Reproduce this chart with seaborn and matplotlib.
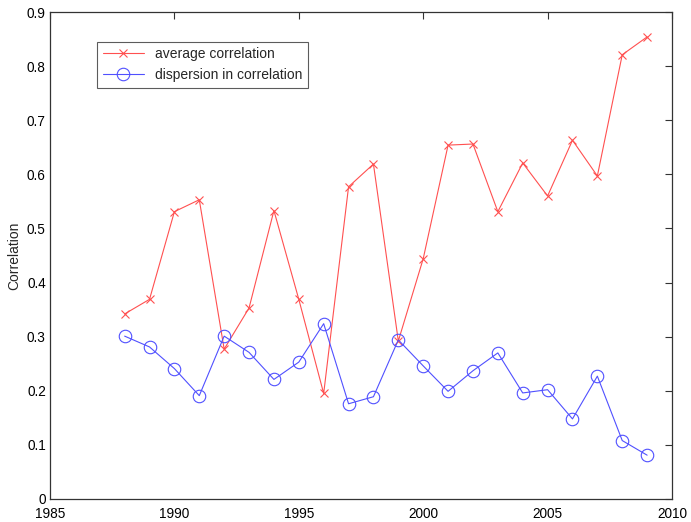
import matplotlib
matplotlib.use("Agg")
import matplotlib.pyplot as plt
import seaborn as sns
import pandas as pd

years = list(range(1988, 2010))
avg_corr = [0.342, 0.369, 0.531, 0.553, 0.277, 0.353, 0.533, 0.369, 0.195, 0.577,
            0.619, 0.292, 0.444, 0.654, 0.656, 0.531, 0.621, 0.560, 0.663, 0.597,
            0.821, 0.854]
disp_corr = [0.301, 0.281, 0.241, 0.191, 0.301, 0.271, 0.221, 0.253, 0.324, 0.176,
             0.189, 0.294, 0.246, 0.199, 0.237, 0.270, 0.196, 0.202, 0.148, 0.227,
             0.108, 0.081]
xticks = [1985, 1990, 1995, 2000, 2005, 2010]
yticks = [0, 0.1, 0.2, 0.3, 0.4, 0.5, 0.6, 0.7, 0.8, 0.9]

sns.set_style("white")
plt.rcParams['font.family'] = ['Liberation Sans', 'DejaVu Sans']

df = pd.DataFrame({"year": years, "avg": avg_corr, "disp": disp_corr})

fig = plt.figure(figsize=(6.91, 5.22), dpi=100)
ax = fig.add_axes([50/691, 23/522, 622/691, 487/522])

sns.lineplot(data=df, x="year", y="avg", ax=ax, color="#ff5050", marker="x",
             markersize=5.5, markeredgecolor="#ff5050", markeredgewidth=0.8,
             linewidth=0.8, label="average correlation")
sns.lineplot(data=df, x="year", y="disp", ax=ax, color="#5050ff", marker="o",
             markersize=9, markerfacecolor="none", markeredgecolor="#5050ff",
             markeredgewidth=0.8, linewidth=0.8, label="dispersion in correlation")

ax.set_xlim(1985, 2010)
ax.set_ylim(0, 0.9)
ax.set_xticks(xticks)
ax.set_xticklabels([str(t) for t in xticks])
ax.set_yticks(yticks)
ax.set_yticklabels(["0"] + [f"{t:.1f}" for t in yticks[1:]])
ax.set_xlabel("")
ax.set_ylabel("Correlation", fontsize=10)
ax.yaxis.set_label_coords(-0.047, 0.5)
ax.tick_params(direction="in", top=True, right=True, length=5, width=0.8,
               labelsize=9.8, colors="#333333", labelcolor="black", pad=3)
ax.tick_params(axis="x", pad=6)
for s in ax.spines.values():
    s.set_color("#333333")
    s.set_linewidth(0.9)

leg = ax.legend(loc="upper left", bbox_to_anchor=(0.0756, 0.939), fontsize=10,
                frameon=True, fancybox=False, edgecolor="#333333",
                borderpad=0.4, labelspacing=0.5, handlelength=3.0,
                borderaxespad=0)
leg.get_frame().set_linewidth(0.8)

fig.savefig("out.png", dpi=100)
